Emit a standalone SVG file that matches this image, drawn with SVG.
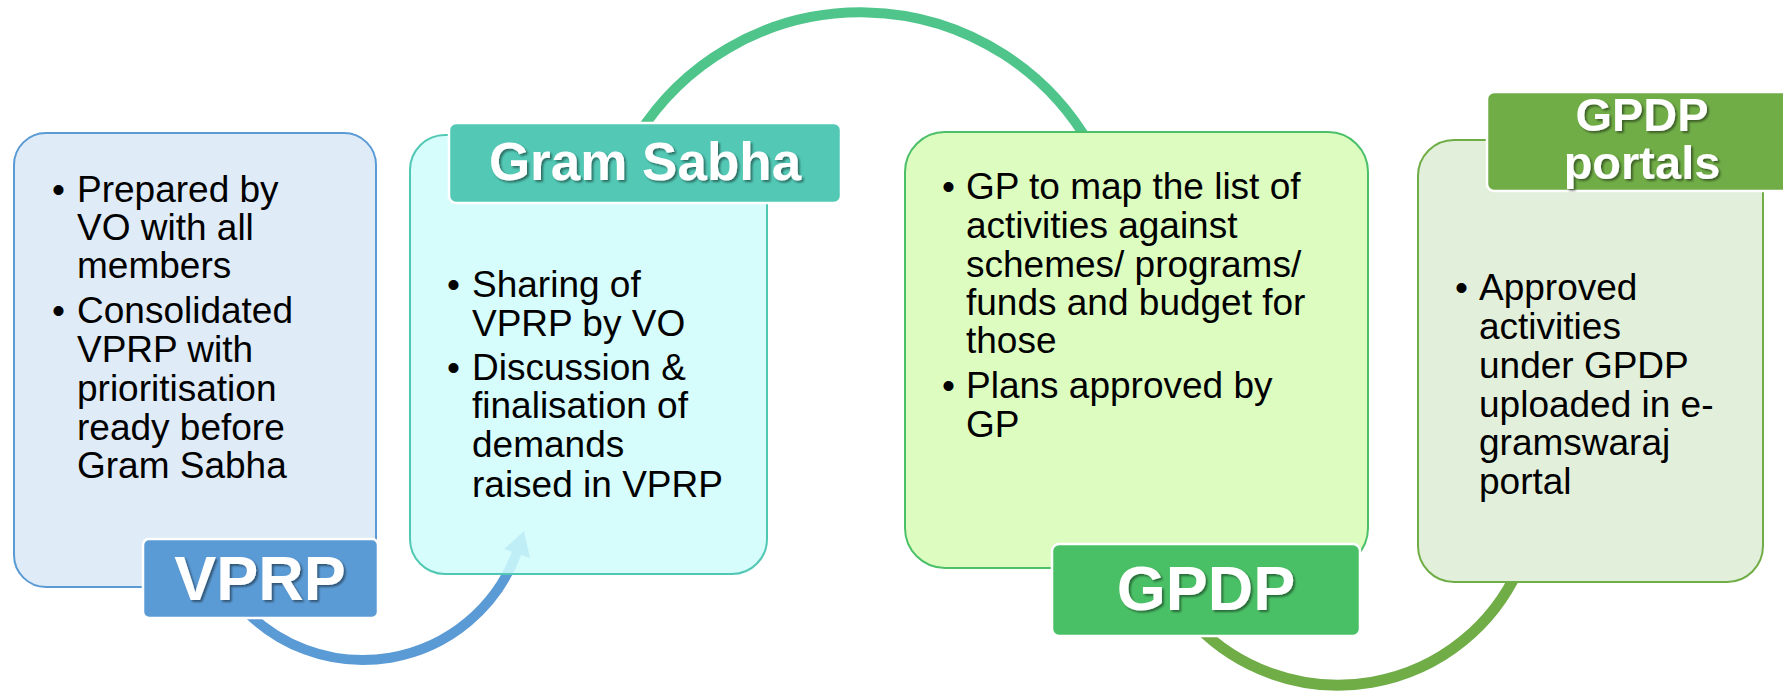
<svg xmlns="http://www.w3.org/2000/svg" width="1783" height="691" viewBox="0 0 1783 691">
<style>
.body{font-family:"Liberation Sans",Arial,sans-serif;font-size:37px;fill:#000}
.lbl{font-family:"Liberation Sans",Arial,sans-serif;font-weight:bold;fill:#fff;text-anchor:middle;filter:url(#sh)}
.lrect{stroke:#fff;stroke-width:2.5}
.arc{fill:none}
</style>
<defs>
<filter id="sh" x="-10%" y="-20%" width="130%" height="150%">
<feDropShadow dx="2" dy="2" stdDeviation="1.2" flood-color="#000" flood-opacity="0.45"/>
</filter>
</defs>
<rect width="1783" height="691" fill="#fff"/>
<g id="connectors">
<path class="arc" d="M 236 600 A 164 164 0 0 0 517 552" stroke="#5b9bd5" stroke-width="10"/>
<polygon points="524,531 530,558 504,549" fill="#5b9bd5"/>
<path class="arc" d="M 638 135 A 264 264 0 0 1 1090 145" stroke="#4fc58b" stroke-width="10"/>
<path class="arc" d="M 1196 625 A 198 198 0 0 0 1518 570" stroke="#70ad47" stroke-width="11"/>
</g>
<g id="node-vprp">
<rect x="14" y="133" width="362" height="454" rx="32" fill="#dfebf6" stroke="#5b9bd5" stroke-width="2"/>
<text class="body" x="52" y="202">•</text>
<text class="body" x="77" y="202">Prepared by</text>
<text class="body" x="77" y="240">VO with all</text>
<text class="body" x="77" y="278">members</text>
<text class="body" x="52" y="323">•</text>
<text class="body" x="77" y="323">Consolidated</text>
<text class="body" x="77" y="362">VPRP with</text>
<text class="body" x="77" y="401">prioritisation</text>
<text class="body" x="77" y="440">ready before</text>
<text class="body" x="77" y="478">Gram Sabha</text>
<rect class="lrect" x="143" y="539" width="235" height="79" rx="6" fill="#5b9bd5"/>
<text class="lbl" x="260" y="600" font-size="63">VPRP</text>
</g>
<g id="node-gramsabha">
<rect x="410" y="135" width="357" height="439" rx="35" fill="#d0fcfc" fill-opacity="0.86" stroke="#50c8b4" stroke-width="2"/>
<text class="body" x="447" y="297">•</text>
<text class="body" x="472" y="297">Sharing of</text>
<text class="body" x="472" y="336">VPRP by VO</text>
<text class="body" x="447" y="380">•</text>
<text class="body" x="472" y="380">Discussion &amp;</text>
<text class="body" x="472" y="418">finalisation of</text>
<text class="body" x="472" y="457">demands</text>
<text class="body" x="472" y="497">raised in VPRP</text>
<rect class="lrect" x="449" y="123" width="392" height="80" rx="7" fill="#52c8b5"/>
<text class="lbl" x="645" y="180" font-size="53">Gram Sabha</text>
</g>
<g id="node-gpdp">
<rect x="905" y="132" width="463" height="436" rx="40" fill="#ddfdc0" stroke="#4cc068" stroke-width="2"/>
<text class="body" x="942" y="199">•</text>
<text class="body" x="966" y="199">GP to map the list of</text>
<text class="body" x="966" y="238">activities against</text>
<text class="body" x="966" y="277">schemes/ programs/</text>
<text class="body" x="966" y="315">funds and budget for</text>
<text class="body" x="966" y="353">those</text>
<text class="body" x="942" y="398">•</text>
<text class="body" x="966" y="398">Plans approved by</text>
<text class="body" x="966" y="437">GP</text>
<rect class="lrect" x="1052" y="544" width="308" height="92" rx="7" fill="#4ac066"/>
<text class="lbl" x="1206" y="610" font-size="63">GPDP</text>
</g>
<g id="node-portals">
<rect x="1418" y="140" width="345" height="442" rx="36" fill="#e2efda" stroke="#70ad47" stroke-width="2"/>
<text class="body" x="1455" y="300">•</text>
<text class="body" x="1479" y="300">Approved</text>
<text class="body" x="1479" y="339">activities</text>
<text class="body" x="1479" y="378">under GPDP</text>
<text class="body" x="1479" y="417">uploaded in e-</text>
<text class="body" x="1479" y="455">gramswaraj</text>
<text class="body" x="1479" y="494">portal</text>
<rect class="lrect" x="1487" y="92" width="320" height="99" rx="7" fill="#70ad47"/>
<text class="lbl" x="1642" y="131" font-size="47">GPDP</text>
<text class="lbl" x="1642" y="179" font-size="47">portals</text>
</g>
</svg>
